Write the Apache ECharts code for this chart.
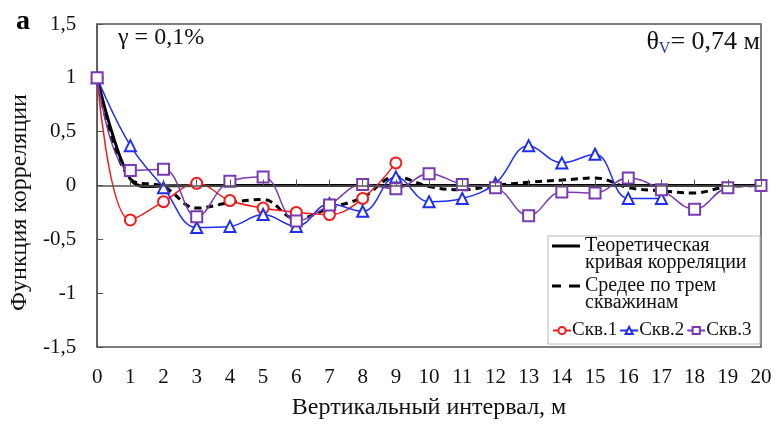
<!DOCTYPE html>
<html>
<head>
<meta charset="utf-8">
<script src="https://cdn.jsdelivr.net/npm/echarts@6/dist/echarts.min.js"></script>
<style>
  html, body { margin: 0; padding: 0; background: #fff; }
  #chart { width: 776px; height: 425px; }
</style>
</head>
<body>
<div id="chart"></div>
<script>
// Lag steps (m)
const lags = [0, 1, 2, 3, 4, 5, 6, 7, 8, 9, 10, 11, 12, 13, 14, 15, 16, 17, 18, 19, 20];

// Correlation function per borehole
const well1 = [1, -0.32, -0.15, 0.02, -0.14, -0.21, -0.25, -0.27, -0.12, 0.21];
const well2 = [1, 0.37, -0.02, -0.39, -0.38, -0.27, -0.38, -0.17, -0.24, 0.08,
               -0.15, -0.12, 0.02, 0.37, 0.21, 0.29, -0.12, -0.12];
const well3 = [1, 0.14, 0.15, -0.29, 0.04, 0.08, -0.33, -0.18, 0.01, -0.03,
               0.11, 0.01, -0.02, -0.28, -0.06, -0.07, 0.07, -0.04, -0.22, -0.02, 0];

// Mean over the three boreholes
const meanCurve = [1, 0.06, -0.01, -0.21, -0.16, -0.13, -0.31, -0.21, -0.11, 0.08,
                   -0.01, -0.04, 0, 0.03, 0.05, 0.07, -0.02, -0.05, -0.07, -0.01, 0];

// Theoretical correlation curve
const theoryLag = [0, 0.25, 0.5, 0.75, 1, 1.25, 1.5, 2, 3, 20];
const theoryVal = [1, 0.7, 0.44, 0.22, 0.06, 0.0, -0.01, -0.005, 0, 0];

// Y axis ticks
const yTicks = [-1.5, -1, -0.5, 0, 0.5, 1, 1.5];

const names = {
  theory: 'Теоретическая\nкривая корреляции',
  mean: 'Средее по трем\nскважинам',
  w1: 'Скв.1',
  w2: 'Скв.2',
  w3: 'Скв.3'
};

const pairs = (xs, ys) => ys.map((v, i) => [xs[i], v]);
const serif = '"Liberation Serif", "Times New Roman", serif';

// Legend line icons sit at the top of a 28x20 box so they line up with the first text line
const solidIcon = 'path://M0,0 L28,0 L28,3 L0,3 Z M0,20 L0,20 Z';
const dashIcon = 'path://M0,0 L9,0 L9,3 L0,3 Z M17,0 L28,0 L28,3 L17,3 Z M0,20 L0,20 Z';

const chart = echarts.init(document.getElementById('chart'), null, { renderer: 'canvas' });

chart.setOption({
  animation: false,
  backgroundColor: '#fff',
  textStyle: { fontFamily: serif, color: '#111' },
  grid: {
    left: 96, right: 15, top: 24, bottom: 73,
    show: true, borderColor: '#555', borderWidth: 1.5
  },
  xAxis: {
    type: 'value', min: 0, max: 20, interval: 1, z: 10,
    name: 'Вертикальный интервал, м',
    nameLocation: 'middle', nameGap: 49,
    nameTextStyle: { fontFamily: serif, fontSize: 24, color: '#111' },
    axisLine: { lineStyle: { color: '#555', width: 1.5 } },
    axisTick: { inside: true, length: 6, lineStyle: { color: '#555' } },
    axisLabel: { fontFamily: serif, fontSize: 21, color: '#111', margin: 20 },
    splitLine: { show: false }
  },
  yAxis: {
    type: 'value', min: yTicks[0], max: yTicks[yTicks.length - 1], interval: 0.5,
    name: 'Функция корреляции',
    nameLocation: 'middle', nameGap: 58, nameRotate: 90,
    nameTextStyle: { fontFamily: serif, fontSize: 24, color: '#111', padding: [0, 34, 0, 0] },
    axisLine: { lineStyle: { color: '#555', width: 1.5 } },
    axisTick: { inside: true, length: 6, lineStyle: { color: '#555' } },
    axisLabel: {
      fontFamily: serif, fontSize: 21, color: '#111', margin: 21,
      formatter: v => String(v).replace('.', ',')
    },
    splitLine: { show: false }
  },
  legend: [
    {
      data: [
        { name: names.theory, icon: solidIcon },
        { name: names.mean, icon: dashIcon }
      ],
      orient: 'vertical', left: 547, top: 231, itemGap: 3,
      itemWidth: 28, itemHeight: 20, z: 8,
      textStyle: { fontFamily: serif, fontSize: 20, color: '#111', lineHeight: 17 }
    },
    {
      data: [names.w1, names.w2, names.w3],
      orient: 'horizontal', left: 547, top: 316, itemGap: 2,
      itemWidth: 18, itemHeight: 9, z: 8,
      textStyle: { fontFamily: serif, fontSize: 19, color: '#111', padding: [0, 0, 0, -4] }
    }
  ],
  graphic: [
    {
      type: 'rect', z: 5,
      shape: { x: 548, y: 236, width: 212, height: 108 },
      style: { fill: '#fff', stroke: '#bbb', lineWidth: 1 }
    },
    {
      type: 'text', left: 16, top: 8, z: 10,
      style: { text: 'a', font: 'bold 28px ' + serif, fill: '#000' }
    },
    {
      type: 'text', left: 118, top: 26, z: 10,
      style: { text: 'γ = 0,1%', font: '24px ' + serif, fill: '#111' }
    },
    {
      type: 'text', right: 16, top: 29, z: 10,
      style: {
        text: '{t|θ}{s|V}{t|= 0,74 м}',
        rich: {
          t: { fontFamily: serif, fontSize: 26, fill: '#111', color: '#111' },
          s: { fontFamily: serif, fontSize: 16, color: '#1d3f8f', fill: '#1d3f8f', padding: [13, 0, 0, 0] }
        }
      }
    }
  ],
  series: [
    {
      name: names.theory, type: 'line', smooth: 0.4, z: 3,
      data: pairs(theoryLag, theoryVal), symbol: 'none',
      lineStyle: { color: '#000', width: 3 }, itemStyle: { color: '#000' }
    },
    {
      name: names.mean, type: 'line', smooth: 0.4, z: 3,
      data: pairs(lags, meanCurve), symbol: 'none',
      lineStyle: { color: '#000', width: 3, type: [7, 5] }, itemStyle: { color: '#000' }
    },
    {
      name: names.w1, type: 'line', smooth: 0.4, z: 4,
      data: pairs(lags, well1), symbol: 'emptyCircle', symbolSize: 11,
      lineStyle: { color: '#f21b1b', width: 1.5 },
      itemStyle: { color: '#f21b1b', borderWidth: 1.3 }
    },
    {
      name: names.w2, type: 'line', smooth: 0.4, z: 4,
      data: pairs(lags, well2), symbol: 'emptyTriangle', symbolSize: 11,
      lineStyle: { color: '#1f2ff0', width: 1.5 },
      itemStyle: { color: '#1f2ff0', borderWidth: 1.3 }
    },
    {
      name: names.w3, type: 'line', smooth: 0.4, z: 4,
      data: pairs(lags, well3), symbol: 'emptyRect', symbolSize: 11,
      lineStyle: { color: '#7a3bb0', width: 1.5 },
      itemStyle: { color: '#7a3bb0', borderWidth: 1.3 }
    }
  ]
});
</script>
</body>
</html>
